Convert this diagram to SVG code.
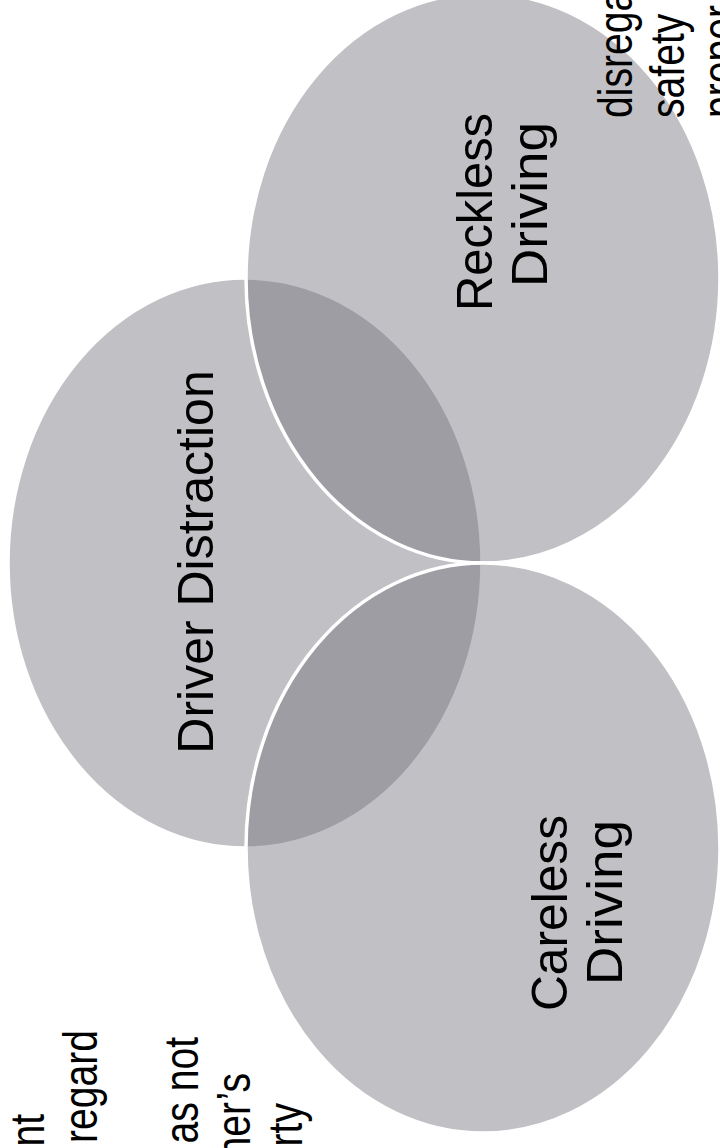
<svg xmlns="http://www.w3.org/2000/svg" width="720" height="1148" viewBox="0 0 720 1148">
  <style>
    .set { fill: #6b6c75; fill-opacity: 0.42; stroke: #ffffff; stroke-width: 3.5; }
    .lbl { font-family: "Liberation Sans", Arial, sans-serif; font-size: 50px; fill: #000000; }
    .note { font-family: "Liberation Sans", Arial, sans-serif; font-size: 48px; fill: #000000; }
  </style>
  <rect x="0" y="0" width="720" height="1148" fill="#ffffff"/>

  <g id="driver-distraction">
    <ellipse class="set" cx="245" cy="563" rx="237" ry="285"/>
    <text class="lbl" text-anchor="middle" transform="translate(213,562) rotate(-90)">Driver Distraction</text>
  </g>

  <g id="reckless-driving">
    <ellipse class="set" cx="483" cy="278" rx="237" ry="285"/>
    <text class="lbl" transform="translate(492,311) rotate(-90)" textLength="198" lengthAdjust="spacingAndGlyphs">Reckless</text>
    <text class="lbl" transform="translate(547,287) rotate(-90)" textLength="165" lengthAdjust="spacingAndGlyphs">Driving</text>
  </g>

  <g id="careless-driving">
    <ellipse class="set" cx="483" cy="848" rx="237" ry="285"/>
    <text class="lbl" transform="translate(567,1011) rotate(-90)" textLength="196" lengthAdjust="spacingAndGlyphs">Careless</text>
    <text class="lbl" transform="translate(622,985) rotate(-90)" textLength="165" lengthAdjust="spacingAndGlyphs">Driving</text>
  </g>

  <g id="notes-left">
    <text class="note" text-anchor="end" transform="translate(44,1114) rotate(-90) scale(0.815,1)">nt</text>
    <text class="note" text-anchor="end" transform="translate(97,1030) rotate(-90) scale(0.815,1)">regard</text>
    <text class="note" text-anchor="end" transform="translate(198,1037) rotate(-90) scale(0.815,1)">as not</text>
    <text class="note" text-anchor="end" transform="translate(250,1073) rotate(-90) scale(0.815,1)">ner’s</text>
    <text class="note" text-anchor="end" transform="translate(302,1103) rotate(-90) scale(0.815,1)">rty</text>
  </g>

  <g id="notes-right">
    <text class="note" transform="translate(632,118) rotate(-90) scale(0.815,1)">disrega</text>
    <text class="note" transform="translate(684,118) rotate(-90) scale(0.815,1)">safety</text>
    <text class="note" transform="translate(736,118) rotate(-90) scale(0.815,1)">proper</text>
  </g>
</svg>
